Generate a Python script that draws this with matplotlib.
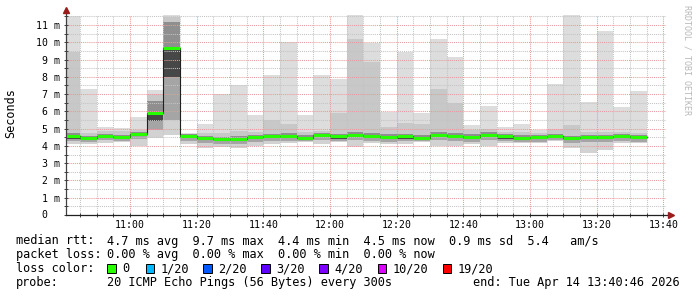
import numpy as np
import matplotlib.pyplot as plt
from matplotlib.ticker import FixedLocator, MultipleLocator
from matplotlib.patches import Rectangle

# 5-minute rounds, minutes after 10:00
bar_start = list(range(40, 215, 5))

# smoke levels per round (ms)
rtt_max = [11.55, 7.30, 5.08, 5.02, 5.69, 7.24, 11.58, 4.77, 5.27, 7.00,
           7.53, 5.79, 8.09, 10.02, 5.79, 8.09, 7.87, 11.58, 9.98, 5.98,
           9.46, 5.92, 10.17, 9.13, 5.21, 6.31, 5.08, 5.27, 4.92, 7.59,
           11.58, 6.56, 10.65, 6.27, 7.20]
rtt_p19 = [9.46, 4.75, 4.85, 4.85, 4.90, 7.00, 11.45, 4.70, 4.75, 4.72,
           4.85, 4.80, 5.50, 5.27, 4.78, 4.85, 5.92, 10.17, 8.88, 5.08,
           5.35, 5.27, 7.31, 6.47, 4.90, 4.96, 4.80, 4.78, 4.75, 4.96,
           5.21, 4.82, 4.80, 4.78, 4.72]
rtt_p17 = [4.75, 4.60, 4.70, 4.65, 4.80, 6.60, 11.20, 4.68, 4.58, 4.52,
           4.58, 4.66, 4.70, 4.72, 4.62, 4.77, 4.70, 4.80, 4.73, 4.68,
           4.68, 4.62, 4.80, 4.72, 4.67, 4.80, 4.68, 4.62, 4.66, 4.70,
           4.58, 4.66, 4.65, 4.70, 4.63]
rtt_med = [4.55, 4.45, 4.58, 4.52, 4.68, 5.92, 9.68, 4.57, 4.44, 4.38,
           4.42, 4.53, 4.57, 4.57, 4.48, 4.63, 4.55, 4.65, 4.58, 4.53,
           4.55, 4.48, 4.65, 4.58, 4.53, 4.65, 4.55, 4.48, 4.53, 4.57,
           4.44, 4.53, 4.51, 4.57, 4.50]
rtt_p3 = [4.43, 4.33, 4.46, 4.40, 4.56, 5.45, 8.00, 4.45, 4.32, 4.26,
          4.30, 4.41, 4.45, 4.45, 4.36, 4.51, 4.43, 4.53, 4.46, 4.41,
          4.43, 4.36, 4.53, 4.46, 4.41, 4.53, 4.43, 4.36, 4.41, 4.45,
          4.32, 4.41, 4.39, 4.45, 4.38]
rtt_p2 = [4.28, 4.20, 4.32, 4.28, 4.40, 4.90, 5.50, 4.30, 4.16, 4.10,
          4.14, 4.25, 4.29, 4.29, 4.30, 4.35, 4.30, 4.37, 4.30, 4.25,
          4.27, 4.28, 4.37, 4.30, 4.25, 4.37, 4.27, 4.22, 4.25, 4.35,
          4.16, 4.25, 4.23, 4.29, 4.24]
rtt_min = [4.12, 4.12, 4.15, 4.20, 4.00, 4.44, 4.63, 4.11, 3.86, 3.95,
           3.86, 4.01, 4.11, 4.15, 4.24, 4.11, 4.24, 3.92, 4.19, 4.11,
           4.11, 4.22, 4.00, 4.00, 4.11, 4.00, 4.19, 4.15, 4.15, 4.30,
           3.86, 3.61, 3.76, 4.15, 4.15]

x_ticks = [60, 80, 100, 120, 140, 160, 180, 200, 220]
x_labels = ["11:00", "11:20", "11:40", "12:00", "12:20", "12:40", "13:00", "13:20", "13:40"]
y_ticks = list(range(12))
y_labels = [""] + [f"{i} m" for i in range(1, 12)]

loss_labels = ["0", "1/20", "2/20", "3/20", "4/20", "10/20", "19/20"]
loss_colors = ["#26ff00", "#00b8ff", "#0059ff", "#5e00ff", "#7e00ff", "#dd00ff", "#ff0000"]

W, H = 697, 297
MONO = "DejaVu Sans Mono"


def fx(x):
    return x / W


def fy(y):
    return 1 - y / H


fig = plt.figure(figsize=(W / 100, H / 100), dpi=100)
ax = fig.add_axes([fx(66), fy(215), 600 / W, (215 - 14.7) / H])

# smoke
bar_start = np.array(bar_start)
layers = [(rtt_p19, rtt_max, "#dddddd"),
          (rtt_p17, rtt_p19, "#c8c8c8"),
          (rtt_med, rtt_p17, "#8f8f8f"),
          (rtt_p3, rtt_med, "#474747"),
          (rtt_p2, rtt_p3, "#a5a5a5"),
          (rtt_min, rtt_p2, "#d2d2d2")]
for lo, hi, col in layers:
    lo = np.array(lo)
    hi = np.array(hi)
    ax.bar(bar_start, hi - lo, bottom=lo, width=5, align="edge",
           color=col, linewidth=0, zorder=1)

# median: thin step line + loss coloured segments
edges = np.append(bar_start, bar_start[-1] + 5)
ax.step(edges, rtt_med + [rtt_med[-1]], where="post", color="#202020", lw=0.8, zorder=3)
ax.hlines(rtt_med, bar_start, bar_start + 5, colors="#26ff00", lw=2.2, zorder=4)

ax.set_xlim(40 + 46 / 60, 220 + 46 / 60)
ax.set_ylim(0, 11.6)

ax.xaxis.set_major_locator(FixedLocator(x_ticks))
ax.xaxis.set_minor_locator(MultipleLocator(5))
ax.set_xticklabels(x_labels, fontsize=7.1, family=MONO)
ax.yaxis.set_major_locator(FixedLocator(y_ticks))
ax.yaxis.set_minor_locator(MultipleLocator(0.5))
ax.set_yticklabels(y_labels, fontsize=7.1, family=MONO)
ax.annotate("0", xy=(0, 0), xycoords=("axes fraction", "data"),
            xytext=(-(66 - 47.5) * 0.72, 0), textcoords="offset points",
            ha="right", va="center", fontsize=7.1, family=MONO)

ax.set_axisbelow(False)
ax.grid(which="minor", color="#c4c4c4", ls=(0, (1, 1)), lw=0.75, zorder=2)
ax.grid(which="major", color="#eb9a9a", ls=(0, (1, 1)), lw=0.75, zorder=2)
ax.tick_params(which="both", direction="inout", length=3, width=0.7,
               color="#404040", pad=2.5, labelcolor="#000000")
ax.tick_params(axis="x", which="both", pad=2)

for s in ax.spines.values():
    s.set_visible(False)

# axes with arrows
fig.add_artist(plt.Line2D([fx(66), fx(66)], [fy(215), fy(11)], color="#404040", lw=0.9))
fig.add_artist(plt.Line2D([fx(66), fx(670)], [fy(215), fy(215)], color="#202020", lw=0.9))
fig.add_artist(plt.Line2D([fx(66)], [fy(10)], marker="^", markersize=4.5, color="#9b1c1c", lw=0))
fig.add_artist(plt.Line2D([fx(671)], [fy(215)], marker=">", markersize=4.5, color="#9b1c1c", lw=0))

fig.text(fx(10.5), fy(113), "Seconds", rotation=90, ha="center", va="center",
         fontsize=8.5, family=MONO)
fig.text(fx(687.5), fy(5), "RRDTOOL / TOBI OETIKER", rotation=270, ha="center", va="top",
         fontsize=6, family=MONO, color="#b8b8b8")

# legend
fs = 8.55
rows = [244.5, 258.3, 272.0, 286.0]
fig.text(fx(16), fy(rows[0]), "median rtt:", fontsize=fs, family=MONO, va="baseline")
fig.text(fx(107.3), fy(rows[0]),
         "4.7 ms avg  9.7 ms max  4.4 ms min  4.5 ms now  0.9 ms sd  5.4   am/s",
         fontsize=fs, family=MONO, va="baseline")
fig.text(fx(16), fy(rows[1]), "packet loss:", fontsize=fs, family=MONO, va="baseline")
fig.text(fx(107.3), fy(rows[1]),
         "0.00 % avg  0.00 % max  0.00 % min  0.00 % now",
         fontsize=fs, family=MONO, va="baseline")
fig.text(fx(16), fy(rows[2]), "loss color:", fontsize=fs, family=MONO, va="baseline")
box_x = [107.3, 145.7, 203.0, 261.3, 319.3, 377.7, 442.7]
for bx, lab, col in zip(box_x, loss_labels, loss_colors):
    fig.add_artist(Rectangle((fx(bx), fy(272.6)), 8.5 / W, 8.5 / H,
                             facecolor=col, edgecolor="#000000", lw=0.7))
    fig.text(fx(bx + 15.3), fy(rows[2]), lab, fontsize=fs, family=MONO, va="baseline")
fig.text(fx(16), fy(rows[3]), "probe:", fontsize=fs, family=MONO, va="baseline")
fig.text(fx(107.3), fy(rows[3]), "20 ICMP Echo Pings (56 Bytes) every 300s",
         fontsize=fs, family=MONO, va="baseline")
fig.text(fx(680), fy(rows[3]), "end: Tue Apr 14 13:40:46 2026",
         fontsize=fs, family=MONO, va="baseline", ha="right")

fig.savefig("out.png", dpi=100)
